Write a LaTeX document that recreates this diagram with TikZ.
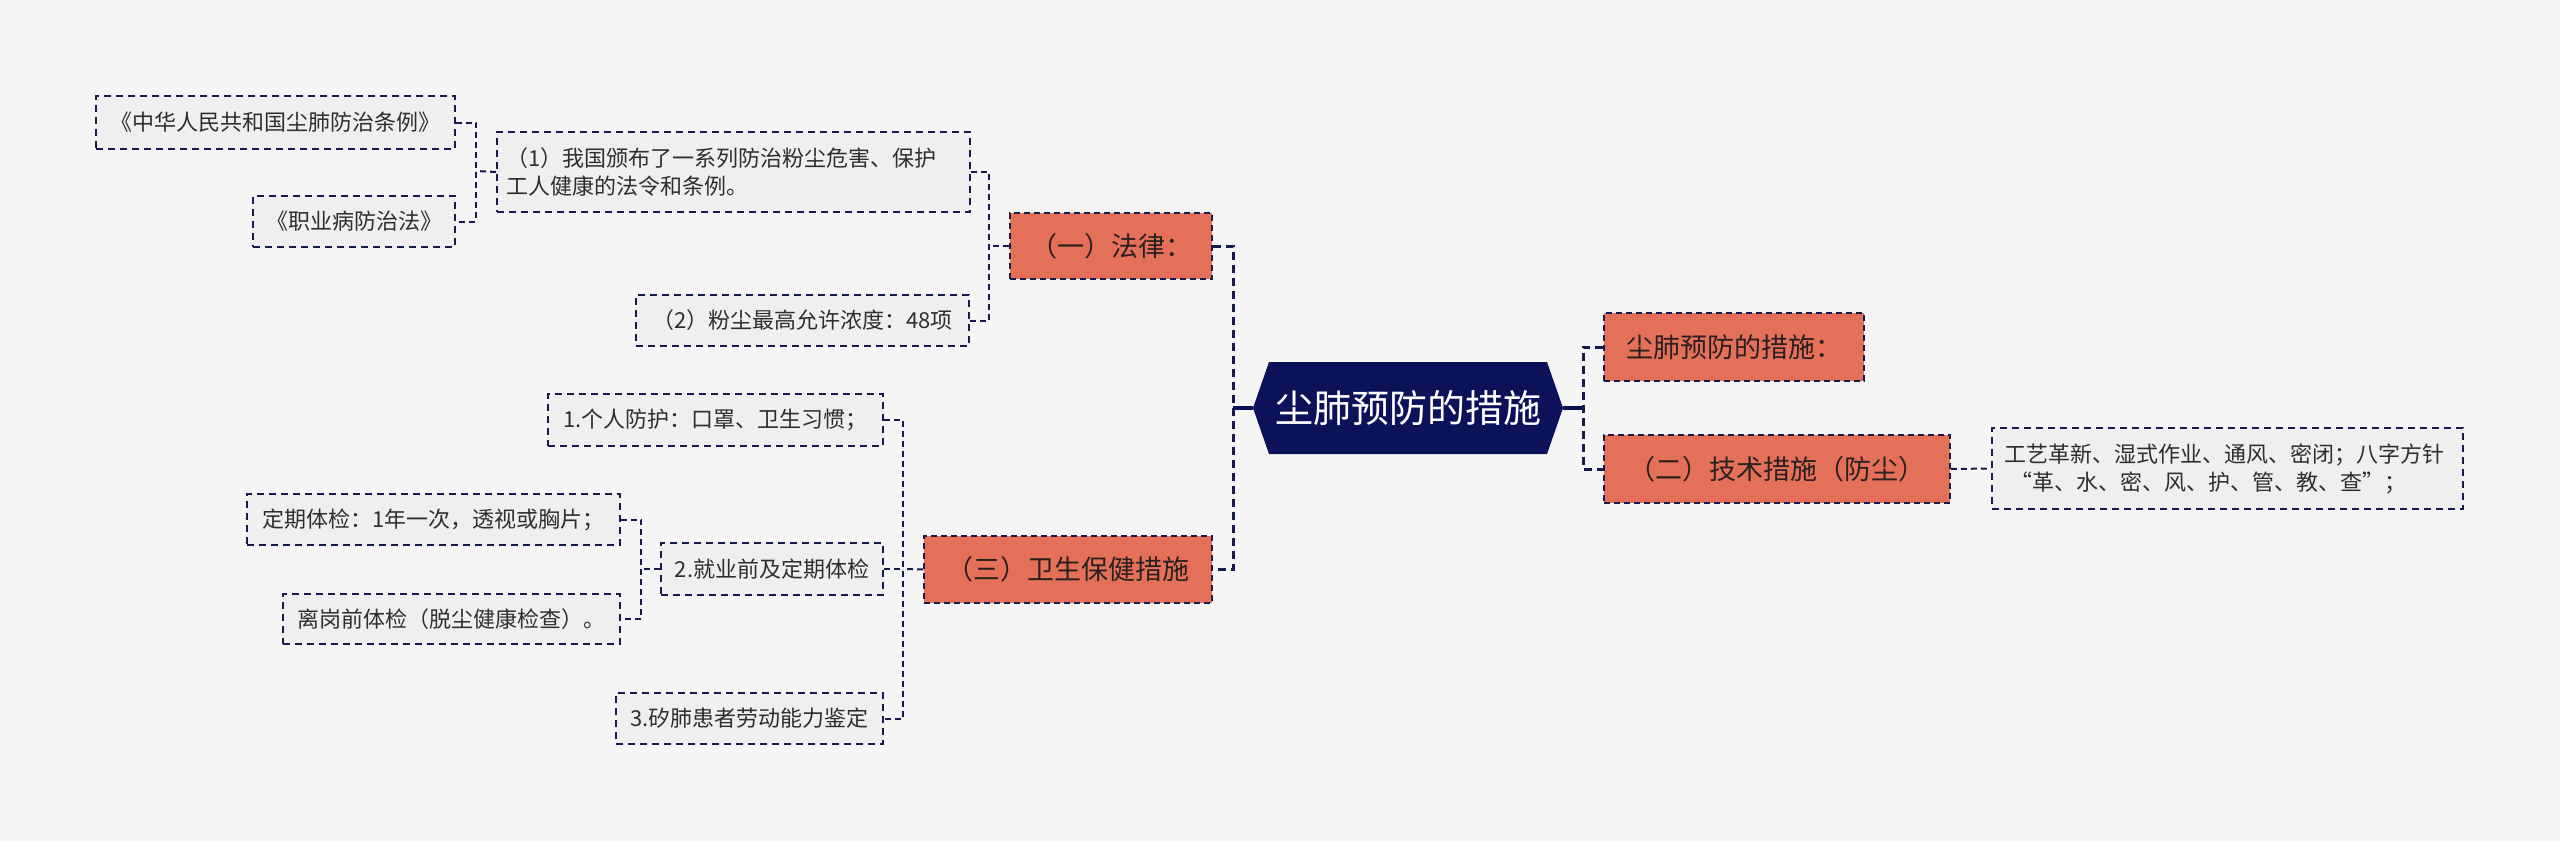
\documentclass[tikz,border=0pt]{standalone}
\usepackage{fontspec}
\setmainfont{Noto Sans CJK SC}
\definecolor{bgC}{HTML}{F5F5F5}
\definecolor{leafC}{HTML}{EFEFEF}
\definecolor{salmonC}{HTML}{E5705A}
\definecolor{navyC}{HTML}{0C1259}
\definecolor{lineC}{HTML}{161B4C}
\definecolor{textC}{HTML}{2E2E2E}
\definecolor{catText}{HTML}{2A211F}
\tikzset{
  leaf/.style={draw=lineC, line width=1.8pt, dash pattern=on 7pt off 5pt, fill=leafC, text=textC,
    font=\fontsize{22}{28}\selectfont, inner sep=0pt, align=center},
  cat/.style={draw=lineC, line width=1.8pt, dash pattern=on 6pt off 4pt, fill=salmonC, text=catText,
    font=\fontsize{27}{32}\selectfont, inner sep=0pt},
  conn/.style={draw=lineC, line width=2pt, dash pattern=on 6pt off 4pt},
  rootconn/.style={draw=lineC, line width=3pt, dash pattern=on 8pt off 5pt},
  rootstub/.style={draw=navyC, line width=3.5pt},
}
\begin{document}
\begin{tikzpicture}[x=1pt,y=-1pt]
\useasboundingbox[fill=bgC] (0,0) rectangle (2560,841);

% root hexagon
\node[minimum width=310pt, minimum height=92pt, inner sep=0pt, text=white,
  font=\fontsize{38}{44}\selectfont,
  path picture={\fill[navyC] (path picture bounding box.west)
     -- ([xshift=16pt]path picture bounding box.north west)
     -- ([xshift=-16pt]path picture bounding box.north east)
     -- (path picture bounding box.east)
     -- ([xshift=-16pt]path picture bounding box.south east)
     -- ([xshift=16pt]path picture bounding box.south west) -- cycle;}]
  (root) at (1408,408) {尘肺预防的措施};

% category nodes
\node[cat, minimum width=202pt, minimum height=66pt] (E) at (1111,246) {（一）法律：};
\node[cat, minimum width=288pt, minimum height=67pt] (I) at (1068,569.5) {（三）卫生保健措施};
\node[cat, minimum width=260pt, minimum height=68pt] (F) at (1734,347) {尘肺预防的措施：};
\node[cat, minimum width=346pt, minimum height=68pt] (G) at (1777,469) {（二）技术措施（防尘）};

% leaves
\node[leaf, minimum width=359pt, minimum height=53pt] (A) at (275.5,122.5) {《中华人民共和国尘肺防治条例》};
\node[leaf, minimum width=202pt, minimum height=51pt] (B) at (354,221.5) {《职业病防治法》};
\node[leaf, minimum height=80pt, text width=455pt, inner xsep=9pt, align=left] (C) at (733.5,172)
  {（1）我国颁布了一系列防治粉尘危害、保护\\工人健康的法令和条例。};
\node[leaf, minimum width=333pt, minimum height=51pt] (D) at (802.5,320.5) {（2）粉尘最高允许浓度：48项};
\node[leaf, minimum width=335pt, minimum height=52pt] (J) at (715.5,420) {1.个人防护：口罩、卫生习惯；};
\node[leaf, minimum width=222pt, minimum height=52pt] (K) at (772,569) {2.就业前及定期体检};
\node[leaf, minimum width=267pt, minimum height=51pt] (L) at (749.5,718.5) {3.矽肺患者劳动能力鉴定};
\node[leaf, minimum width=373pt, minimum height=51pt] (M) at (433.5,519.5) {定期体检：1年一次，透视或胸片；};
\node[leaf, minimum width=337pt, minimum height=50pt] (N) at (451.5,619) {离岗前体检（脱尘健康检查）。};
\node[leaf, minimum height=81pt, text width=447pt, inner xsep=12pt, align=left] (H) at (2227.5,468.5)
  {工艺革新、湿式作业、通风、密闭；八字方针\\\hspace*{6pt}“革、水、密、风、护、管、教、查”；};

% junction coordinates
\coordinate (lv) at (1233,408);
\coordinate (rv) at (1583,408);
\coordinate (ev) at (989,246);
\coordinate (cv) at (476,171);
\coordinate (iv) at (903,569);
\coordinate (kv) at (641,569);

% root connectors
\draw[rootstub] (root.west) -- (lv);
\draw[rootconn] (E.east) -- (E.east -| lv) -- (I.east -| lv) -- (I.east);
\draw[rootstub] (root.east) -- (rv);
\draw[rootconn] (F.west) -- (F.west -| rv) -- (G.west -| rv) -- (G.west);

% (一) branch
\draw[conn] (E.west) -- (ev);
\draw[conn] (C.east) -- (C.east -| ev) -- (D.east -| ev) -- (D.east);
\draw[conn] (C.west) -- (cv);
\draw[conn] (A.east) -- (A.east -| cv) -- (B.east -| cv) -- (B.east);

% (三) branch
\draw[conn] (I.west) -- (iv);
\draw[conn] (J.east) -- (J.east -| iv) -- (L.east -| iv) -- (L.east);
\draw[conn] (K.east) -- (K.east -| iv);
\draw[conn] (K.west) -- (kv);
\draw[conn] (M.east) -- (M.east -| kv) -- (N.east -| kv) -- (N.east);

% (二) branch
\draw[conn] (G.east) -- (H.west);
\end{tikzpicture}
\end{document}
